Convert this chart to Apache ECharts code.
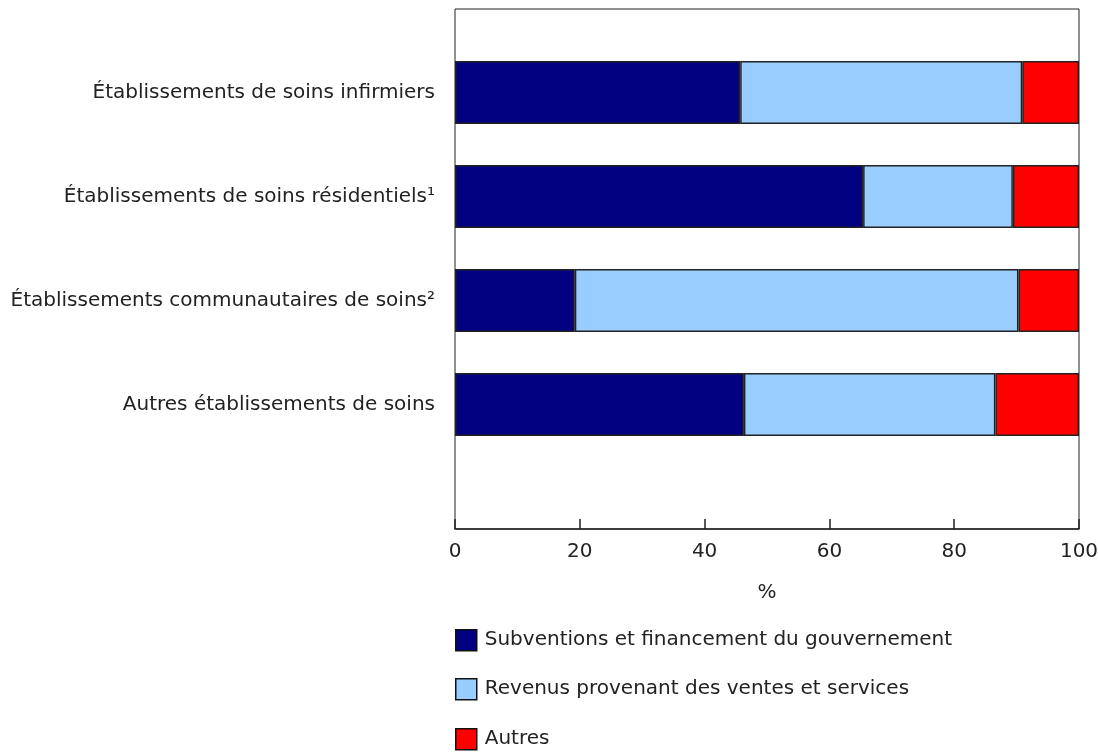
<!DOCTYPE html>
<html><head><meta charset="utf-8">
<script src="https://cdn.jsdelivr.net/npm/echarts@6/dist/echarts.min.js"></script>
<style>html,body{margin:0;padding:0;background:#fff}#c{width:1098px;height:752px}</style>
</head><body><div id="c"></div>
<script>
var categories = ['Établissements de soins infirmiers','Établissements de soins résidentiels¹','Établissements communautaires de soins²','Autres établissements de soins'];
var seriesNames = ['Subventions et financement du gouvernement','Revenus provenant des ventes et services','Autres'];
var subventions = [45.7, 65.4, 19.2, 46.3];
var revenus = [45.2, 24.0, 71.1, 40.3];
var autres = [9.1, 10.6, 9.7, 13.4];
var xTicks = [0, 20, 40, 60, 80, 100];
var colors = ['#000080', '#99CCFF', '#FF0000'];
var font = 'DejaVu Sans, Verdana, sans-serif';
var chart = echarts.init(document.getElementById('c'));
var vals = [subventions, revenus, autres];
var legendTops = [629, 678, 728];
chart.setOption({
  animation: false,
  textStyle: {fontFamily: font},
  legend: seriesNames.map(function(n, i){
    return {
      orient: 'vertical', left: 455, top: legendTops[i], padding: 0,
      itemWidth: 21, itemHeight: 21, itemGap: 0,
      icon: 'rect', textStyle: {fontSize: 20, color: '#222', fontFamily: font, padding: [0,0,0,3]},
      itemStyle: {borderColor: '#111', borderWidth: 1.5},
      data: [n]
    };
  }),
  grid: [
    {left: 455, right: 19, top: 40.5, height: 416, show: false, outerBoundsMode: 'none', containLabel: false},
    {left: 455, right: 19, top: 9, bottom: 223, show: true, borderColor: '#222', borderWidth: 1, backgroundColor: 'transparent', outerBoundsMode: 'none', containLabel: false}
  ],
  xAxis: [
    {gridIndex: 0, type: 'value', min: 0, max: 100, show: false},
    {gridIndex: 1, type: 'value', min: 0, max: 100, interval: 20,
     axisLine: {show: true, lineStyle: {color: '#222', width: 1.5}},
     axisTick: {show: true, inside: true, length: 10, lineStyle: {color: '#222', width: 1.5}},
     splitLine: {show: false},
     axisLabel: {fontSize: 20, color: '#222', margin: 13, fontFamily: font,
       formatter: function(v){ return xTicks.indexOf(v) >= 0 ? String(v) : ''; }},
     name: '%', nameLocation: 'middle', nameGap: 54,
     nameTextStyle: {fontSize: 20, color: '#222', fontFamily: font}}
  ],
  yAxis: [
    {gridIndex: 0, type: 'category', data: categories, inverse: true,
     axisLine: {show: false}, axisTick: {show: false},
     axisLabel: {fontSize: 20, color: '#222', margin: 20, fontFamily: font}},
    {gridIndex: 1, type: 'value', min: 0, max: 1, show: false}
  ],
  series: seriesNames.map(function(n, i){
    return {
      name: n, type: 'bar', stack: 'total', xAxisIndex: 0, yAxisIndex: 0,
      barWidth: 63, data: vals[i],
      itemStyle: {color: colors[i], borderColor: '#222', borderWidth: 1.5}
    };
  })
});
</script></body></html>
